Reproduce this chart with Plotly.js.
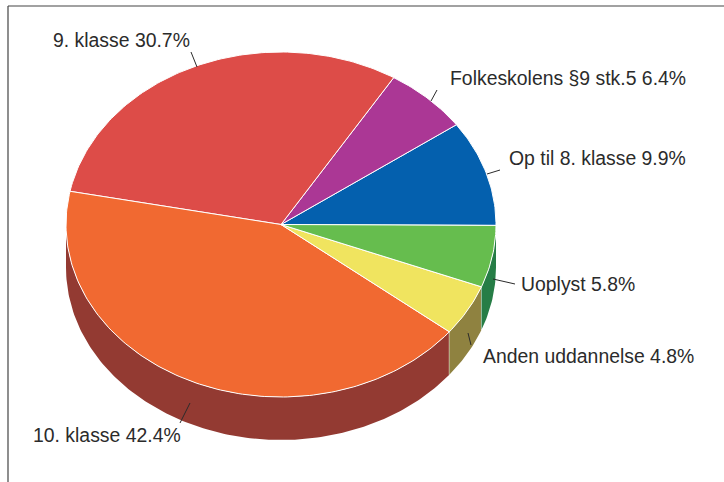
<!DOCTYPE html>
<html><head><meta charset="utf-8">
<script src="https://cdn.plot.ly/plotly-3.0.1.min.js"></script>
<style>html,body{margin:0;padding:0;background:#fff}#c{width:724px;height:482px}</style>
</head><body><div id="c"></div>
<script>
const categories = ["Op til 8. klasse","Folkeskolens §9 stk.5","9. klasse","10. klasse","Anden uddannelse","Uoplyst"];
const shares = [9.9,6.4,30.7,42.4,4.8,5.8];
const topColors = ["#0460ae","#ab3795","#dd4c48","#f16931","#f0e45f","#66bd4e"];
const wallColors = ["#03457d","#7a2769","#9e3633","#933a32","#8f8240","#267d46"];
const labelX = [509,450,53,33,483,521];
const labelY = [158,78,40,435,356,284];
const leaders = [[[487,174],[500,170]],[[431,101],[437,90]],[[197,67],[191,52]],[[190,403],[180,423]],[[468,333],[471,345]],[[493,279],[515,284]]];

const cx=281, cy=224.5, rx=215, ry=172.5, depth=43, startAngle=-0.3;
const px=a=>cx+rx*Math.cos(a*Math.PI/180);
const py=(a,d=0)=>cy-ry*Math.sin(a*Math.PI/180)+d;
function arc(a0,a1){const o=[];const n=Math.max(2,Math.ceil(Math.abs(a1-a0)));for(let i=0;i<=n;i++)o.push(a0+(a1-a0)*i/n);return o;}

const traces=[];
let acc=0;
const spans=shares.map(s=>{const a=[startAngle+acc*3.6,startAngle+(acc+s)*3.6];acc+=s;return a;});
spans.forEach((sp,i)=>{
  const a0=Math.max(sp[0],180), a1=i===spans.length-1?360:sp[1];
  if(a1<=180) return;
  const ang=arc(a0,a1);
  const x=ang.map(px).concat(ang.slice().reverse().map(px));
  const y=ang.map(a=>py(a)).concat(ang.slice().reverse().map(a=>py(a,depth)));
  traces.push({type:"scatter",mode:"lines",x,y,fill:"toself",fillcolor:wallColors[i],line:{width:0,color:wallColors[i]},hoverinfo:"skip",showlegend:false});
  if(a1<360){
    traces.push({type:"scatter",mode:"lines",x:[px(a1),px(a1)],y:[py(a1),py(a1,depth)],line:{color:"#ffffff",width:1},hoverinfo:"skip",showlegend:false});
  }
});
spans.forEach((sp,i)=>{
  const ang=arc(sp[0],sp[1]);
  const x=[cx].concat(ang.map(px)).concat([cx]);
  const y=[cy].concat(ang.map(a=>py(a))).concat([cy]);
  traces.push({type:"scatter",mode:"lines",x,y,fill:"toself",fillcolor:topColors[i],line:{color:"#ffffff",width:1},name:categories[i],hoverinfo:"name",showlegend:false});
});
leaders.forEach(l=>{
  traces.push({type:"scatter",mode:"lines",x:[l[0][0],l[1][0]],y:[l[0][1],l[1][1]],line:{color:"#2b2b2b",width:1},hoverinfo:"skip",showlegend:false});
});
const annotations=categories.map((c,i)=>({text:c+" "+shares[i].toFixed(1)+"%",x:labelX[i],y:labelY[i],xref:"x",yref:"y",xanchor:"left",yanchor:"middle",showarrow:false,xshift:-2,
  font:{family:"Liberation Sans, Arial, sans-serif",size:19.4,color:"#2b2b2b"}}));
const layout={width:724,height:482,margin:{l:0,r:0,t:0,b:0},paper_bgcolor:"#fff",plot_bgcolor:"#fff",showlegend:false,
  xaxis:{range:[0,724],visible:false,fixedrange:true},
  yaxis:{range:[482,0],visible:false,fixedrange:true},
  annotations,
  shapes:[
    {type:"line",xref:"x",yref:"y",x0:8,x1:8,y0:6,y1:482,line:{color:"#444444",width:1.2}},
    {type:"line",xref:"x",yref:"y",x0:8,x1:724,y0:6,y1:6,line:{color:"#444444",width:1.2}}
  ]};
Plotly.newPlot("c",traces,layout,{displayModeBar:false,staticPlot:true});
</script></body></html>
